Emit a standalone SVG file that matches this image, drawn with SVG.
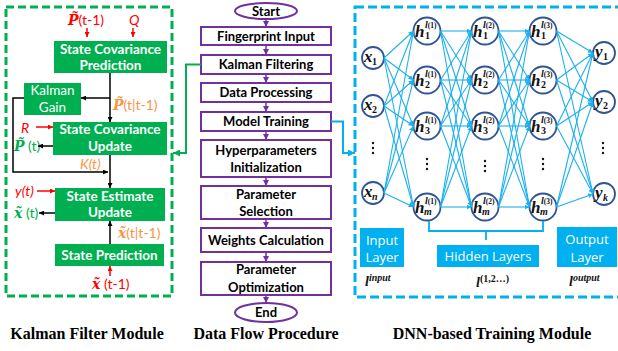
<svg xmlns="http://www.w3.org/2000/svg" width="618" height="351" viewBox="0 0 618 351">
<style>
.gbox{fill:#00B050;stroke:none}
.gt{font-family:Lato,"Liberation Sans",sans-serif;font-weight:bold;font-size:13.5px;fill:#fff;text-anchor:middle}
.gtn{font-family:Lato,"Liberation Sans",sans-serif;font-size:13.5px;fill:#fff;text-anchor:middle}
.pbox{fill:#fff;stroke:#7030A0;stroke-width:2}
.pt{font-family:Lato,"Liberation Sans",sans-serif;font-weight:bold;font-size:13px;fill:#000;text-anchor:middle}
.lbl{font-family:Lato,"Liberation Sans",sans-serif;font-size:14px;font-style:normal;font-weight:normal}
.it{font-style:italic}
.var{font-family:"DejaVu Serif","Liberation Serif",serif;font-style:italic;font-weight:bold;font-size:14px}
.red{fill:#FF0000}.org{fill:#F79646}.grn{fill:#00B050}
.blk{stroke:#000;stroke-width:1.5;fill:none}
.rln{stroke:#FF0000;stroke-width:1.5;fill:none}
.nc{fill:#fff;stroke:#2F5597;stroke-width:1.8}
.hv{font-family:"Liberation Serif",serif;font-style:italic;font-weight:bold;font-size:17px;fill:#111}
.sup{font-family:"Liberation Serif",serif;font-style:italic;font-weight:bold;font-size:10px;fill:#111}
.sp{font-style:normal;font-size:7.5px}
.sub{font-family:"Liberation Serif",serif;font-weight:bold;font-size:10px;fill:#111}
.subi{font-family:"Liberation Serif",serif;font-style:italic;font-weight:bold;font-size:10px;fill:#111}
.nn{stroke:#1DB0EE;stroke-width:1.1;fill:none}
.bbox{fill:#00B0F0}
.bt{font-family:"Open Sans","Noto Sans",sans-serif;font-size:13px;fill:#fff;text-anchor:middle}
.ll{font-family:"Liberation Serif",serif;font-style:italic;font-weight:bold;fill:#111}
.title{font-family:"Liberation Serif",serif;font-weight:bold;font-size:16px;fill:#000;text-anchor:middle}
.dot{fill:#111}
</style>
<defs>
<marker id="ab" viewBox="0 0 6 6" refX="6" refY="3" markerWidth="5" markerHeight="5" orient="auto" markerUnits="userSpaceOnUse"><path d="M0,0L6,3L0,6z" fill="#000"/></marker>
<marker id="ar" viewBox="0 0 6 6" refX="6" refY="3" markerWidth="5" markerHeight="5" orient="auto" markerUnits="userSpaceOnUse"><path d="M0,0L6,3L0,6z" fill="#FF0000"/></marker>
<marker id="ap" viewBox="0 0 6 6" refX="6" refY="3" markerWidth="6" markerHeight="6" orient="auto" markerUnits="userSpaceOnUse"><path d="M0,0L6,3L0,6z" fill="#7030A0"/></marker>
<marker id="ag" viewBox="0 0 6 6" refX="6" refY="3" markerWidth="7" markerHeight="7" orient="auto" markerUnits="userSpaceOnUse"><path d="M0,0L6,3L0,6z" fill="#00B050"/></marker>
<marker id="abl" viewBox="0 0 6 6" refX="6" refY="3" markerWidth="7" markerHeight="7" orient="auto" markerUnits="userSpaceOnUse"><path d="M0,0L6,3L0,6z" fill="#00B0F0"/></marker>
<marker id="an" viewBox="0 0 6 6" refX="6" refY="3" markerWidth="5" markerHeight="5" orient="auto" markerUnits="userSpaceOnUse"><path d="M0,0L6,3L0,6z" fill="#1DB0EE"/></marker>
</defs>

<!-- module frames -->
<rect id="kf-frame" x="6" y="7" width="166" height="289" fill="none" stroke="#00B050" stroke-width="3" stroke-dasharray="8,4"/>
<rect id="dnn-frame" x="355" y="7" width="270" height="290" fill="none" stroke="#00B0F0" stroke-width="3" stroke-dasharray="9,4"/>

<!-- Kalman filter nodes -->
<g id="scp"><rect class="gbox" x="54" y="41" width="113" height="32"/><text class="gt" x="110.5" y="53.5">State Covariance</text><text class="gt" x="110.5" y="70">Prediction</text></g>
<g id="kg"><rect class="gbox" x="24" y="83" width="57" height="32"/><text class="gtn" x="52.5" y="95">Kalman</text><text class="gtn" x="52.5" y="111.5">Gain</text></g>
<g id="scu"><rect class="gbox" x="53" y="122" width="114" height="33"/><text class="gt" x="110" y="134">State Covariance</text><text class="gt" x="110" y="150.5">Update</text></g>
<g id="seu"><rect class="gbox" x="55" y="188" width="110" height="33"/><text class="gt" x="110" y="200.5">State Estimate</text><text class="gt" x="110" y="217">Update</text></g>
<g id="sp"><rect class="gbox" x="55" y="244" width="109" height="22"/><text class="gt" x="109.5" y="259.5">State Prediction</text></g>

<!-- Kalman labels -->
<g id="kf-labels">
<text class="red" x="68" y="25"><tspan class="var">P&#x303;</tspan><tspan class="lbl">(t-1)</tspan></text>
<text class="lbl it red" x="129" y="25" style="font-style:italic">Q</text>
<text class="org" x="113" y="110"><tspan class="var">P&#x303;</tspan><tspan class="lbl">(t|t-1)</tspan></text>
<text class="lbl red" x="21" y="133" style="font-style:italic">R</text>
<text class="grn" x="14" y="151"><tspan class="var">P&#x303;</tspan><tspan class="lbl"> (t)</tspan></text>
<text class="lbl org" x="80" y="169" style="font-style:italic">K(t)</text>
<text class="lbl red" x="15" y="196" style="font-style:italic">y(t)</text>
<text class="grn" x="14" y="218"><tspan class="var">x&#x303;</tspan><tspan class="lbl"> (t)</tspan></text>
<text class="org" x="118" y="238"><tspan class="var">x&#x303;</tspan><tspan class="lbl">(t|t-1)</tspan></text>
<text class="red" x="92" y="289"><tspan class="var">x&#x303;</tspan><tspan class="lbl"> (t-1)</tspan></text>
</g>

<!-- Data flow nodes -->
<g id="start"><ellipse cx="266" cy="11" rx="31" ry="8" fill="#fff" stroke="#7030A0" stroke-width="2"/><text class="pt" x="266" y="15.5">Start</text></g>
<g id="fp"><rect class="pbox" x="201" y="27" width="130" height="18"/><text class="pt" x="266" y="40.5">Fingerprint Input</text></g>
<g id="kfl"><rect class="pbox" x="201" y="55" width="130" height="19"/><text class="pt" x="266" y="69">Kalman Filtering</text></g>
<g id="dp"><rect class="pbox" x="201" y="83" width="130" height="19"/><text class="pt" x="266" y="97">Data Processing</text></g>
<g id="mt"><rect class="pbox" x="201" y="112" width="130" height="19"/><text class="pt" x="266" y="126">Model Training</text></g>
<g id="hpi"><rect class="pbox" x="201" y="140" width="130" height="37"/><text class="pt" x="266" y="154.5">Hyperparameters</text><text class="pt" x="266" y="171.5">Initialization</text></g>
<g id="ps"><rect class="pbox" x="201" y="186" width="130" height="33"/><text class="pt" x="266" y="198.5">Parameter</text><text class="pt" x="266" y="216">Selection</text></g>
<g id="wc"><rect class="pbox" x="201" y="228" width="130" height="24"/><text class="pt" x="266" y="244.5">Weights Calculation</text></g>
<g id="po"><rect class="pbox" x="201" y="262" width="130" height="33"/><text class="pt" x="266" y="274">Parameter</text><text class="pt" x="266" y="291.5">Optimization</text></g>
<g id="end"><ellipse cx="266" cy="312.5" rx="31" ry="9.5" fill="#fff" stroke="#7030A0" stroke-width="2"/><text class="pt" x="266" y="317">End</text></g>

<!-- DNN nodes -->
<g id="x1"><circle class="nc" cx="373" cy="58" r="11"/><text class="hv" x="364" y="62">x</text><text class="sub" x="372" y="65">1</text></g>
<g id="x2"><circle class="nc" cx="373" cy="106" r="11"/><text class="hv" x="364" y="110">x</text><text class="sub" x="372" y="113">2</text></g>
<g id="xn"><circle class="nc" cx="373" cy="193" r="11"/><text class="hv" x="364" y="197">x</text><text class="subi" x="372" y="200">n</text></g>

<g id="h1_1"><circle class="nc" cx="427" cy="31" r="13.5"/><text class="hv" x="415" y="37">h</text><text class="sup" x="425" y="28">l<tspan class="sp">(1)</tspan></text><text class="sub" x="425" y="39">1</text></g>
<g id="h1_2"><circle class="nc" cx="427" cy="80" r="13.5"/><text class="hv" x="415" y="86">h</text><text class="sup" x="425" y="77">l<tspan class="sp">(1)</tspan></text><text class="sub" x="425" y="88">2</text></g>
<g id="h1_3"><circle class="nc" cx="427" cy="126" r="13.5"/><text class="hv" x="415" y="132">h</text><text class="sup" x="425" y="123">l<tspan class="sp">(1)</tspan></text><text class="sub" x="425" y="134">3</text></g>
<g id="h1_m"><circle class="nc" cx="427" cy="207" r="13.5"/><text class="hv" x="415" y="213">h</text><text class="sup" x="425" y="204">l<tspan class="sp">(1)</tspan></text><text class="subi" x="424" y="215">m</text></g>

<g id="h2_1"><circle class="nc" cx="485" cy="31" r="13.5"/><text class="hv" x="473" y="37">h</text><text class="sup" x="483" y="28">l<tspan class="sp">(2)</tspan></text><text class="sub" x="483" y="39">1</text></g>
<g id="h2_2"><circle class="nc" cx="485" cy="80" r="13.5"/><text class="hv" x="473" y="86">h</text><text class="sup" x="483" y="77">l<tspan class="sp">(2)</tspan></text><text class="sub" x="483" y="88">2</text></g>
<g id="h2_3"><circle class="nc" cx="485" cy="126" r="13.5"/><text class="hv" x="473" y="132">h</text><text class="sup" x="483" y="123">l<tspan class="sp">(2)</tspan></text><text class="sub" x="483" y="134">3</text></g>
<g id="h2_m"><circle class="nc" cx="485" cy="207" r="13.5"/><text class="hv" x="473" y="213">h</text><text class="sup" x="483" y="204">l<tspan class="sp">(2)</tspan></text><text class="subi" x="482" y="215">m</text></g>

<g id="h3_1"><circle class="nc" cx="543" cy="31" r="13.5"/><text class="hv" x="531" y="37">h</text><text class="sup" x="541" y="28">l<tspan class="sp">(3)</tspan></text><text class="sub" x="541" y="39">1</text></g>
<g id="h3_2"><circle class="nc" cx="543" cy="80" r="13.5"/><text class="hv" x="531" y="86">h</text><text class="sup" x="541" y="77">l<tspan class="sp">(3)</tspan></text><text class="sub" x="541" y="88">2</text></g>
<g id="h3_3"><circle class="nc" cx="543" cy="126" r="13.5"/><text class="hv" x="531" y="132">h</text><text class="sup" x="541" y="123">l<tspan class="sp">(3)</tspan></text><text class="sub" x="541" y="134">3</text></g>
<g id="h3_m"><circle class="nc" cx="543" cy="207" r="13.5"/><text class="hv" x="531" y="213">h</text><text class="sup" x="541" y="204">l<tspan class="sp">(3)</tspan></text><text class="subi" x="540" y="215">m</text></g>

<g id="y1"><circle class="nc" cx="604" cy="53" r="11"/><text class="hv" x="595" y="57">y</text><text class="sub" x="603" y="60">1</text></g>
<g id="y2"><circle class="nc" cx="604" cy="102" r="11"/><text class="hv" x="595" y="106">y</text><text class="sub" x="603" y="109">2</text></g>
<g id="yk"><circle class="nc" cx="604" cy="194" r="11"/><text class="hv" x="595" y="198">y</text><text class="subi" x="603" y="201">k</text></g>

<g id="ellipses">
<circle class="dot" cx="373" cy="143" r="1.2"/><circle class="dot" cx="373" cy="148" r="1.2"/><circle class="dot" cx="373" cy="153" r="1.2"/>
<circle class="dot" cx="427" cy="159" r="1.2"/><circle class="dot" cx="427" cy="164" r="1.2"/><circle class="dot" cx="427" cy="169" r="1.2"/>
<circle class="dot" cx="485" cy="161" r="1.2"/><circle class="dot" cx="485" cy="166" r="1.2"/><circle class="dot" cx="485" cy="171" r="1.2"/>
<circle class="dot" cx="543" cy="159" r="1.2"/><circle class="dot" cx="543" cy="164" r="1.2"/><circle class="dot" cx="543" cy="169" r="1.2"/>
<circle class="dot" cx="603" cy="143" r="1.2"/><circle class="dot" cx="603" cy="148" r="1.2"/><circle class="dot" cx="603" cy="153" r="1.2"/>
</g>

<!-- layer labels -->
<g id="input-layer"><rect class="bbox" x="360" y="228" width="44" height="39"/><text class="bt" x="382" y="245">Input</text><text class="bt" x="382" y="262">Layer</text></g>
<g id="hidden-layers"><rect class="bbox" x="437" y="245" width="102" height="22"/><text class="bt" x="488" y="261">Hidden Layers</text></g>
<g id="output-layer"><rect class="bbox" x="557" y="227" width="60" height="40"/><text class="bt" x="587" y="244">Output</text><text class="bt" x="587" y="262">Layer</text></g>
<text class="ll" x="365" y="286" font-size="14">l<tspan font-size="10" dy="-5">input</tspan></text>
<text class="ll" x="476" y="287" font-size="14">l<tspan font-size="10" dy="-5" font-style="normal">(1,2…)</tspan></text>
<text class="ll" x="569" y="286" font-size="14">l<tspan font-size="10" dy="-5">output</tspan></text>

<!-- connectors -->
<g id="connectors">
<line class="rln" x1="87" y1="28" x2="87" y2="37" marker-end="url(#ar)"/>
<line class="rln" x1="133" y1="28" x2="133" y2="37" marker-end="url(#ar)"/>
<line class="blk" x1="110" y1="73" x2="110" y2="122" marker-end="url(#ab)"/>
<line class="blk" x1="110" y1="98" x2="81" y2="98" marker-end="url(#ab)"/>
<line class="rln" x1="36" y1="127" x2="53" y2="127" marker-end="url(#ar)"/>
<line class="blk" x1="53" y1="146" x2="38" y2="146" marker-end="url(#ab)"/>
<polyline class="blk" points="24,98 13,98 13,172 108,172" marker-end="url(#ab)"/>
<line class="blk" x1="110" y1="155" x2="110" y2="188" marker-end="url(#ab)"/>
<line class="rln" x1="37" y1="191" x2="55" y2="191" marker-end="url(#ar)"/>
<line class="blk" x1="55" y1="213" x2="39" y2="213" marker-end="url(#ab)"/>
<line class="blk" x1="110" y1="244" x2="110" y2="221" marker-end="url(#ab)"/>
<line class="rln" x1="110" y1="276" x2="110" y2="266" marker-end="url(#ar)"/>
<g stroke="#7030A0" stroke-width="1.5" marker-end="url(#ap)">
<line x1="266" y1="19" x2="266" y2="27"/>
<line x1="266" y1="45" x2="266" y2="55"/>
<line x1="266" y1="74" x2="266" y2="83"/>
<line x1="266" y1="102" x2="266" y2="112"/>
<line x1="266" y1="131" x2="266" y2="140"/>
<line x1="266" y1="177" x2="266" y2="186"/>
<line x1="266" y1="219" x2="266" y2="228"/>
<line x1="266" y1="252" x2="266" y2="262"/>
<line x1="266" y1="295" x2="266" y2="303"/>
</g>
<polyline points="201,64.5 186,64.5 186,153 173,153" fill="none" stroke="#00B050" stroke-width="2" marker-end="url(#ag)"/>
<polyline points="331,121.5 343,121.5 343,153 355,153" fill="none" stroke="#00B0F0" stroke-width="2" marker-end="url(#abl)"/>
<path d="M429,221 V231 H543 V221 M486,231 V240" fill="none" stroke="#00B0F0" stroke-width="1.8"/>
<g class="nn" marker-end="url(#an)">
<line x1="384" y1="58" x2="413.5" y2="31"/><line x1="384" y1="58" x2="413.5" y2="80"/><line x1="384" y1="58" x2="413.5" y2="126"/><line x1="384" y1="58" x2="413.5" y2="207"/>
<line x1="384" y1="106" x2="413.5" y2="31"/><line x1="384" y1="106" x2="413.5" y2="80"/><line x1="384" y1="106" x2="413.5" y2="126"/><line x1="384" y1="106" x2="413.5" y2="207"/>
<line x1="384" y1="193" x2="413.5" y2="31"/><line x1="384" y1="193" x2="413.5" y2="80"/><line x1="384" y1="193" x2="413.5" y2="126"/><line x1="384" y1="193" x2="413.5" y2="207"/>

<line x1="440.5" y1="31" x2="471.5" y2="31"/><line x1="440.5" y1="31" x2="471.5" y2="80"/><line x1="440.5" y1="31" x2="471.5" y2="126"/><line x1="440.5" y1="31" x2="471.5" y2="207"/>
<line x1="440.5" y1="80" x2="471.5" y2="31"/><line x1="440.5" y1="80" x2="471.5" y2="80"/><line x1="440.5" y1="80" x2="471.5" y2="126"/><line x1="440.5" y1="80" x2="471.5" y2="207"/>
<line x1="440.5" y1="126" x2="471.5" y2="31"/><line x1="440.5" y1="126" x2="471.5" y2="80"/><line x1="440.5" y1="126" x2="471.5" y2="126"/><line x1="440.5" y1="126" x2="471.5" y2="207"/>
<line x1="440.5" y1="207" x2="471.5" y2="31"/><line x1="440.5" y1="207" x2="471.5" y2="80"/><line x1="440.5" y1="207" x2="471.5" y2="126"/><line x1="440.5" y1="207" x2="471.5" y2="207"/>

<line x1="498.5" y1="31" x2="529.5" y2="31"/><line x1="498.5" y1="31" x2="529.5" y2="80"/><line x1="498.5" y1="31" x2="529.5" y2="126"/><line x1="498.5" y1="31" x2="529.5" y2="207"/>
<line x1="498.5" y1="80" x2="529.5" y2="31"/><line x1="498.5" y1="80" x2="529.5" y2="80"/><line x1="498.5" y1="80" x2="529.5" y2="126"/><line x1="498.5" y1="80" x2="529.5" y2="207"/>
<line x1="498.5" y1="126" x2="529.5" y2="31"/><line x1="498.5" y1="126" x2="529.5" y2="80"/><line x1="498.5" y1="126" x2="529.5" y2="126"/><line x1="498.5" y1="126" x2="529.5" y2="207"/>
<line x1="498.5" y1="207" x2="529.5" y2="31"/><line x1="498.5" y1="207" x2="529.5" y2="80"/><line x1="498.5" y1="207" x2="529.5" y2="126"/><line x1="498.5" y1="207" x2="529.5" y2="207"/>

<line x1="556.5" y1="31" x2="593" y2="53"/><line x1="556.5" y1="31" x2="593" y2="102"/><line x1="556.5" y1="31" x2="593" y2="194"/>
<line x1="556.5" y1="80" x2="593" y2="53"/><line x1="556.5" y1="80" x2="593" y2="102"/><line x1="556.5" y1="80" x2="593" y2="194"/>
<line x1="556.5" y1="126" x2="593" y2="53"/><line x1="556.5" y1="126" x2="593" y2="102"/><line x1="556.5" y1="126" x2="593" y2="194"/>
<line x1="556.5" y1="207" x2="593" y2="53"/><line x1="556.5" y1="207" x2="593" y2="102"/><line x1="556.5" y1="207" x2="593" y2="194"/>
</g>
</g>

<text class="title" x="87" y="339">Kalman Filter Module</text>
<text class="title" x="266" y="339">Data Flow Procedure</text>
<text class="title" x="492" y="339">DNN-based Training Module</text>
</svg>
